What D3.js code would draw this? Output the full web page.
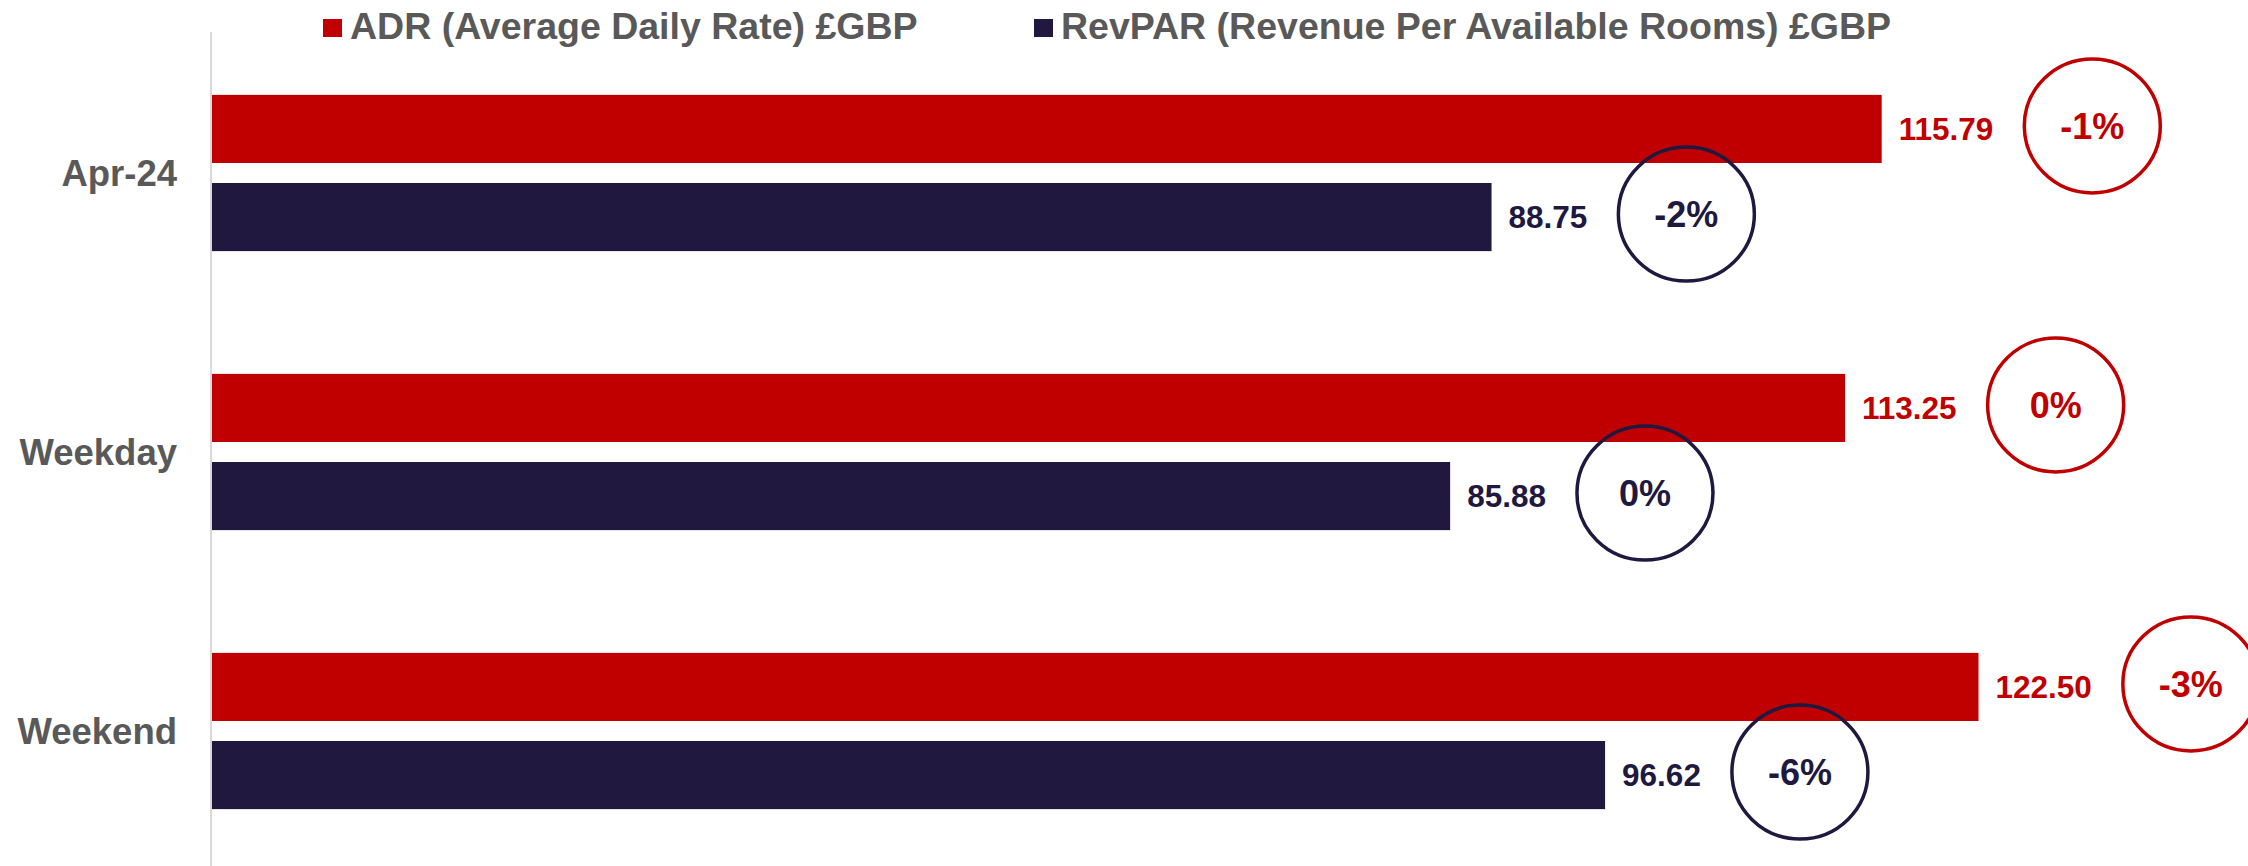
<!DOCTYPE html>
<html lang="en">
<head>
    <meta charset="UTF-8">
    <title>ADR and RevPAR</title>
    <script src="https://cdn.jsdelivr.net/npm/d3@7"></script>
    <style>
        body { margin: 0; background: #fff; }
        text { font-family: "Liberation Sans", Arial, sans-serif; font-weight: bold; }
    </style>
</head>
<body>
<script type="application/javascript">
    // data
    const categories = ['Apr-24', 'Weekday', 'Weekend'];
    const seriesNames = ['ADR (Average Daily Rate) £GBP', 'RevPAR (Revenue Per Available Rooms) £GBP'];
    const adrValues = [115.79, 113.25, 122.50];
    const revparValues = [88.75, 85.88, 96.62];
    const adrChange = ['-1%', '0%', '-3%'];
    const revparChange = ['-2%', '0%', '-6%'];
    const colors = ['#C00000', '#20183F'];

    const w = 2248, h = 866;
    const labelGrey = '#595959';

    let svg = d3.select('body')
        .append('svg')
        .attr('width', w)
        .attr('height', h);

    // 横向比例尺
    let xScale = d3.scaleLinear()
        .domain([0, 140])
        .range([211, 2231]);

    // 分类比例尺
    let yScale = d3.scaleBand()
        .domain(categories)
        .range([33.5, 870.5])
        .paddingInner(0.44)
        .paddingOuter(0.22);

    // 每组里的两个系列
    let ySub = d3.scaleBand()
        .domain(d3.range(seriesNames.length))
        .range([0, yScale.bandwidth()])
        .paddingInner(0.227);

    // flat rows: one per bar
    let rows = [];
    categories.forEach((c, i) => {
        rows.push({cat: c, s: 0, value: adrValues[i], change: adrChange[i]});
        rows.push({cat: c, s: 1, value: revparValues[i], change: revparChange[i]});
    });

    // axis line
    svg.append('line')
        .attr('x1', xScale(0)).attr('x2', xScale(0))
        .attr('y1', 32).attr('y2', h)
        .attr('stroke', '#D9D9D9')
        .attr('stroke-width', 2);

    svg.selectAll('rect.bar')
        .data(rows)
        .enter()
        .append('rect')
        .attr('class', 'bar')
        .attr('x', xScale(0) + 1)
        .attr('y', d => yScale(d.cat) + ySub(d.s))
        .attr('width', d => xScale(d.value) - xScale(0) - 1)
        .attr('height', ySub.bandwidth())
        .attr('fill', d => colors[d.s]);

    // category labels
    svg.selectAll('text.cat')
        .data(categories)
        .enter()
        .append('text')
        .attr('class', 'cat')
        .text(d => d)
        .attr('x', 177)
        .attr('y', d => yScale(d) + yScale.bandwidth() / 2)
        .attr('dy', '0.35em')
        .attr('text-anchor', 'end')
        .attr('font-size', '36.5px')
        .attr('fill', labelGrey);

    // value labels
    let valueLabels = svg.selectAll('text.val')
        .data(rows)
        .enter()
        .append('text')
        .attr('class', 'val')
        .text(d => d.value.toFixed(2))
        .attr('x', d => xScale(d.value) + 17)
        .attr('y', d => yScale(d.cat) + ySub(d.s) + ySub.bandwidth() / 2)
        .attr('dy', '0.35em')
        .attr('font-size', '31.5px')
        .attr('fill', d => colors[d.s]);

    // change circles, placed after the value label
    const r = 67;
    valueLabels.each(function (d) {
        let labelEnd = xScale(d.value) + 17 + this.getComputedTextLength();
        let cx = labelEnd + 32 + r;
        let cy = yScale(d.cat) + ySub(d.s) + ySub.bandwidth() / 2 - 3;
        let g = svg.append('g').attr('class', 'change');
        g.append('ellipse')
            .attr('cx', cx).attr('cy', cy)
            .attr('rx', r + 1).attr('ry', r)
            .attr('fill', 'none')
            .attr('stroke', colors[d.s])
            .attr('stroke-width', 3.5);
        g.append('text')
            .text(d.change)
            .attr('x', cx)
            .attr('y', cy)
            .attr('dy', '0.35em')
            .attr('text-anchor', 'middle')
            .attr('font-size', '36px')
            .attr('fill', colors[d.s]);
    });

    // legend
    const legendX = [323, 1034];
    let legend = svg.selectAll('g.legend')
        .data(seriesNames)
        .enter()
        .append('g')
        .attr('class', 'legend')
        .attr('transform', (d, i) => 'translate(' + legendX[i] + ',0)');
    legend.append('rect')
        .attr('x', 0).attr('y', 19)
        .attr('width', 19).attr('height', 18)
        .attr('fill', (d, i) => colors[i]);
    legend.append('text')
        .text(d => d)
        .attr('x', 27)
        .attr('y', 39)
        .attr('font-size', '37.5px')
        .attr('fill', labelGrey);
</script>
</body>
</html>
